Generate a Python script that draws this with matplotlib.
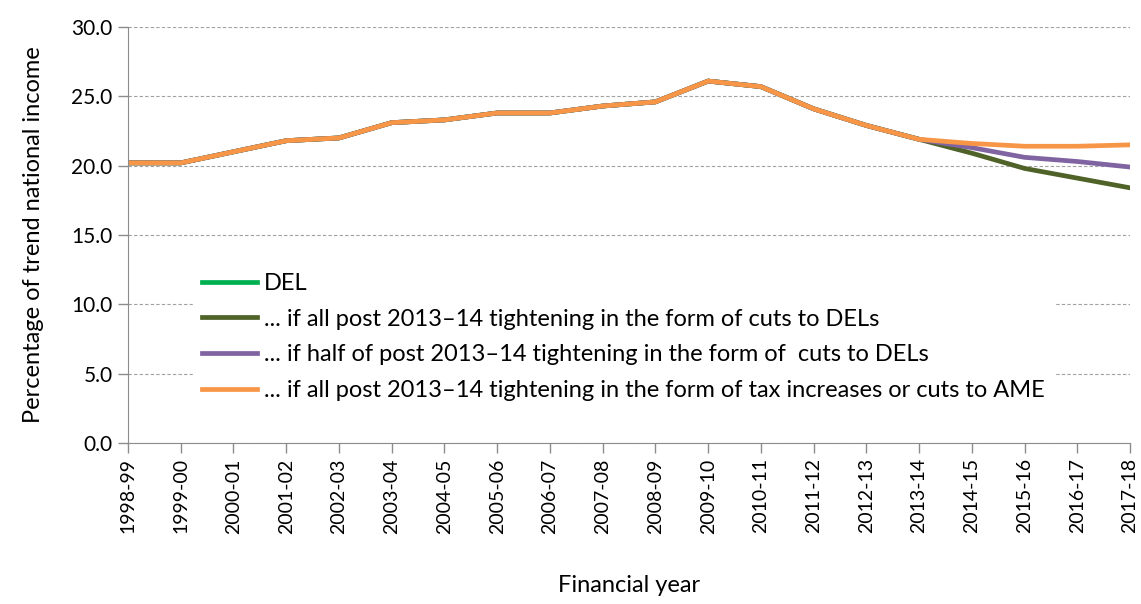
import numpy as np
import matplotlib.pyplot as plt

# Financial years on the x axis
years = ['1998-99', '1999-00', '2000-01', '2001-02', '2002-03', '2003-04',
         '2004-05', '2005-06', '2006-07', '2007-08', '2008-09', '2009-10',
         '2010-11', '2011-12', '2012-13', '2013-14', '2014-15', '2015-16',
         '2016-17', '2017-18']

# Outturn DEL (up to 2013-14)
del_hist = [20.2, 20.2, 21.0, 21.8, 22.0, 23.1, 23.3, 23.8, 23.8, 24.3,
            24.6, 26.1, 25.7, 24.1, 22.9, 21.9]

# Projections from 2014-15 onwards
all_cuts = [20.9, 19.8, 19.1, 18.4]
half_cuts = [21.3, 20.6, 20.3, 19.9]
tax_rises = [21.6, 21.4, 21.4, 21.5]

labels = ['DEL',
          '... if all post 2013\u201314 tightening in the form of cuts to DELs',
          '... if half of post 2013\u201314 tightening in the form of  cuts to DELs',
          '... if all post 2013\u201314 tightening in the form of tax increases or cuts to AME']

plt.rcParams['font.family'] = ['Lato', 'DejaVu Sans']

fig = plt.figure(figsize=(11.41, 6.04), dpi=100)
ax = fig.add_axes([0.1122, 0.2666, 0.8782, 0.6887])

x = np.arange(len(years))
x_hist = x[:len(del_hist)]

ax.plot(x_hist, del_hist, color='#00b050', lw=3.4, label=labels[0])
ax.plot(x, del_hist + all_cuts, color='#4f6228', lw=3.4, label=labels[1])
ax.plot(x, del_hist + half_cuts, color='#8064a2', lw=3.4, label=labels[2])
ax.plot(x, del_hist + tax_rises, color='#f79646', lw=3.4, label=labels[3])

ax.set_xlim(0, len(years) - 1)
ax.set_ylim(0, 30)
ax.set_yticks(np.arange(0, 31, 5))
ax.set_yticklabels(['%.1f' % v for v in np.arange(0, 31, 5)], fontsize=15)
ax.set_xticks(x)
ax.set_xticklabels(years, rotation=90, fontsize=14)

ax.grid(axis='y', color='#a0a0a0', lw=0.8, ls=(0, (3, 2)))
ax.set_axisbelow(True)
for s in ['top', 'right']:
    ax.spines[s].set_visible(False)
for s in ['left', 'bottom']:
    ax.spines[s].set_color('#8c8c8c')
ax.tick_params(axis='both', color='#8c8c8c', length=7, width=1, pad=4)

ax.set_ylabel('Percentage of trend national income', fontsize=17, labelpad=20)
ax.set_xlabel('Financial year', fontsize=17, labelpad=30)

leg = ax.legend(loc='upper left', bbox_to_anchor=(0.053, 0.46), fontsize=17,
                frameon=True, fancybox=False, handlelength=2.3, handletextpad=0.3,
                labelspacing=0.62, borderpad=0.4)
leg.get_frame().set_facecolor('white')
leg.get_frame().set_edgecolor('white')
leg.get_frame().set_alpha(1)

fig.savefig('out.png', dpi=100)
